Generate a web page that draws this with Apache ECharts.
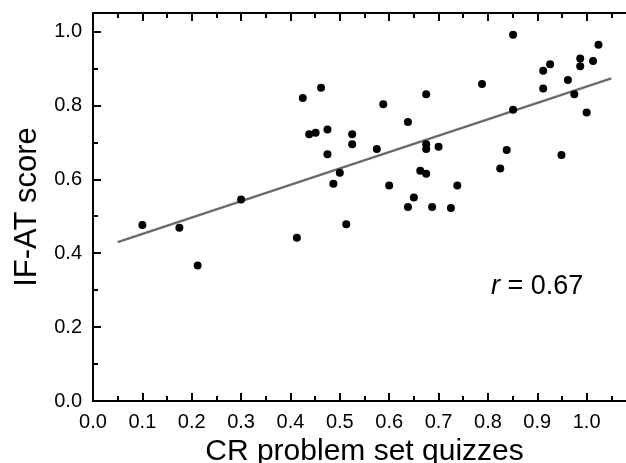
<!DOCTYPE html>
<html>
<head>
<meta charset="utf-8">
<script src="https://cdn.jsdelivr.net/npm/echarts@6/dist/echarts.min.js"></script>
<style>
html, body { margin: 0; padding: 0; background: #fff; }
#main { width: 626px; height: 463px; }
</style>
</head>
<body>
<div id="main"></div>
<script>
// CR problem set quiz score vs IF-AT score, one point per student
var quizScores = [0.100, 0.175, 0.212, 0.300, 0.413, 0.425, 0.438, 0.451, 0.462, 0.475,
    0.475, 0.487, 0.500, 0.513, 0.525, 0.525, 0.575, 0.588, 0.600, 0.638,
    0.638, 0.650, 0.663, 0.675, 0.675, 0.675, 0.675, 0.687, 0.700, 0.725,
    0.738, 0.788, 0.825, 0.838, 0.851, 0.851, 0.912, 0.912, 0.926, 0.949,
    0.962, 0.975, 0.987, 0.987, 1.000, 1.013, 1.024];
var ifatScores = [0.476, 0.469, 0.367, 0.545, 0.442, 0.820, 0.722, 0.726, 0.848, 0.735,
    0.668, 0.588, 0.618, 0.478, 0.722, 0.695, 0.682, 0.803, 0.583, 0.755,
    0.525, 0.551, 0.623, 0.830, 0.695, 0.682, 0.615, 0.525, 0.688, 0.522,
    0.583, 0.858, 0.629, 0.679, 0.991, 0.788, 0.894, 0.846, 0.911, 0.666,
    0.869, 0.830, 0.927, 0.906, 0.781, 0.920, 0.964];
// fitted regression line end points
var fitX = [0.05, 1.05];
var fitY = [0.430, 0.873];

var points = quizScores.map(function (x, i) { return [x, ifatScores[i]]; });
var fitLine = fitX.map(function (x, i) { return [x, fitY[i]]; });

var FONT = '"Liberation Sans", Arial, Helvetica, sans-serif';
var lineStyle = { color: '#000', width: 2 };

var chart = echarts.init(document.getElementById('main'), null, { renderer: 'canvas' });
var option = {
    animation: false,
    backgroundColor: '#fff',
    textStyle: { fontFamily: FONT },
    grid: { left: 93, right: -10, top: 13, bottom: 62, containLabel: false, outerBoundsMode: 'none' },
    title: {
        text: '{i|r} = 0.67',
        left: 486,
        top: 268,
        textStyle: {
            fontFamily: FONT,
            fontSize: 27,
            fontWeight: 'normal',
            color: '#000',
            rich: {
                i: { fontFamily: FONT, fontSize: 27, fontStyle: 'italic', color: '#000' }
            }
        }
    },
    xAxis: [
        {
            type: 'value', position: 'bottom', min: 0, max: 1.1, interval: 0.1,
            name: 'CR problem set quizzes', nameLocation: 'middle', nameGap: 26,
            nameTextStyle: { fontFamily: FONT, fontSize: 30, color: '#000' },
            axisLine: { show: true, onZero: false, lineStyle: lineStyle },
            axisTick: { show: true, inside: true, length: 8, lineStyle: lineStyle },
            minorTick: { show: true, splitNumber: 2, length: 5, lineStyle: lineStyle },
            splitLine: { show: false },
            axisLabel: {
                margin: 11, fontFamily: FONT, fontSize: 20, color: '#000',
                showMaxLabel: false,
                formatter: function (v) { return v.toFixed(1); }
            }
        },
        {
            type: 'value', position: 'top', min: 0, max: 1.1, interval: 0.1,
            axisLine: { show: true, onZero: false, lineStyle: lineStyle },
            axisTick: { show: true, inside: true, length: 8, lineStyle: lineStyle },
            minorTick: { show: true, splitNumber: 2, length: 5, lineStyle: lineStyle },
            splitLine: { show: false },
            axisLabel: { show: false }
        }
    ],
    yAxis: [
        {
            type: 'value', position: 'left', min: 0, max: 1.05, interval: 0.2,
            name: 'IF-AT score', nameLocation: 'middle', nameGap: 36,
            nameTextStyle: { fontFamily: FONT, fontSize: 31, color: '#000' },
            axisLine: { show: true, onZero: false, lineStyle: lineStyle },
            axisTick: { show: true, inside: true, length: 8, lineStyle: lineStyle },
            minorTick: { show: true, splitNumber: 2, length: 5, lineStyle: lineStyle },
            splitLine: { show: false },
            axisLabel: {
                margin: 11, fontFamily: FONT, fontSize: 20, color: '#000',
                showMaxLabel: false,
                formatter: function (v) { return v.toFixed(1); }
            }
        },
        {
            type: 'value', position: 'right', min: 0, max: 1.05, interval: 0.2,
            axisLine: { show: true, onZero: false, lineStyle: lineStyle },
            axisTick: { show: true, inside: true, length: 8, lineStyle: lineStyle },
            minorTick: { show: true, splitNumber: 2, length: 5, lineStyle: lineStyle },
            splitLine: { show: false },
            axisLabel: { show: false }
        }
    ],
    series: [
        {
            type: 'line',
            xAxisIndex: 0, yAxisIndex: 0,
            data: fitLine,
            showSymbol: false,
            symbol: 'none',
            lineStyle: { color: '#6b6b6b', width: 2.5 },
            z: 2
        },
        {
            type: 'scatter',
            xAxisIndex: 0, yAxisIndex: 0,
            data: points,
            symbol: 'circle',
            symbolSize: 8,
            itemStyle: { color: '#000', opacity: 1 },
            z: 3
        }
    ]
};
chart.setOption(option);
</script>
</body>
</html>
